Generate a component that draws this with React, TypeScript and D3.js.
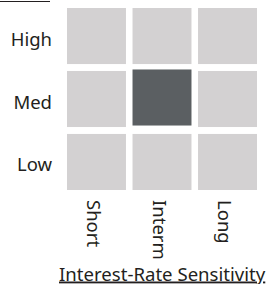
import React from "react";
import * as d3 from "d3";

const columns = ["Short", "Interm", "Long"];
const rows = ["High", "Med", "Low"];
const selectedCol = "Interm";
const selectedRow = "Med";
const xTitle = "Interest-Rate Sensitivity";
const yTitle = "Credit Quality";

const W = 268;
const H = 284;
const FONT = "'Noto Sans', sans-serif";

export default function App() {
  const x = d3.scaleBand<string>().domain(columns).range([67, 257]).paddingInner(0.1);
  const y = d3.scaleBand<string>().domain(rows).range([8, 190]).paddingInner(0.11);
  const cells = rows.flatMap((r) => columns.map((c) => ({ r, c })));
  return (
    <svg width={W} height={H} style={{ position: "absolute", left: 0, top: 0 }}>
      <g>
        <text x={52} y={-4} textAnchor="end" fontFamily={FONT} fontSize={18} fill="#231f20">
          {yTitle}
        </text>
        <line x1={0} x2={50} y1={1.5} y2={1.5} stroke="#231f20" strokeWidth={1.2} />
      </g>
      {cells.map(({ r, c }) => {
        const sel = r === selectedRow && c === selectedCol;
        return (
          <rect
            key={r + c}
            x={x(c)}
            y={(y(r) ?? 0) - (sel ? 1.5 : 0)}
            width={x.bandwidth()}
            height={y.bandwidth()}
            fill={sel ? "#5b5f62" : "#d3d1d2"}
          />
        );
      })}
      {rows.map((r) => (
        <text
          key={r}
          x={52}
          y={(y(r) ?? 0) + y.bandwidth() / 2 + 9.5}
          textAnchor="end"
          fontFamily={FONT}
          fontSize={18.5}
          fill="#231f20"
        >
          {r}
        </text>
      ))}
      {columns.map((c) => (
        <text
          key={c}
          transform={`translate(${(x(c) ?? 0) + x.bandwidth() / 2 - 9.5},200) rotate(90)`}
          fontFamily={FONT}
          fontSize={18.5}
          fill="#231f20"
        >
          {c}
        </text>
      ))}
      <text x={59} y={280.5} fontFamily={FONT} fontSize={18.6} fill="#231f20" textDecoration="underline">
        {xTitle}
      </text>
    </svg>
  );
}
